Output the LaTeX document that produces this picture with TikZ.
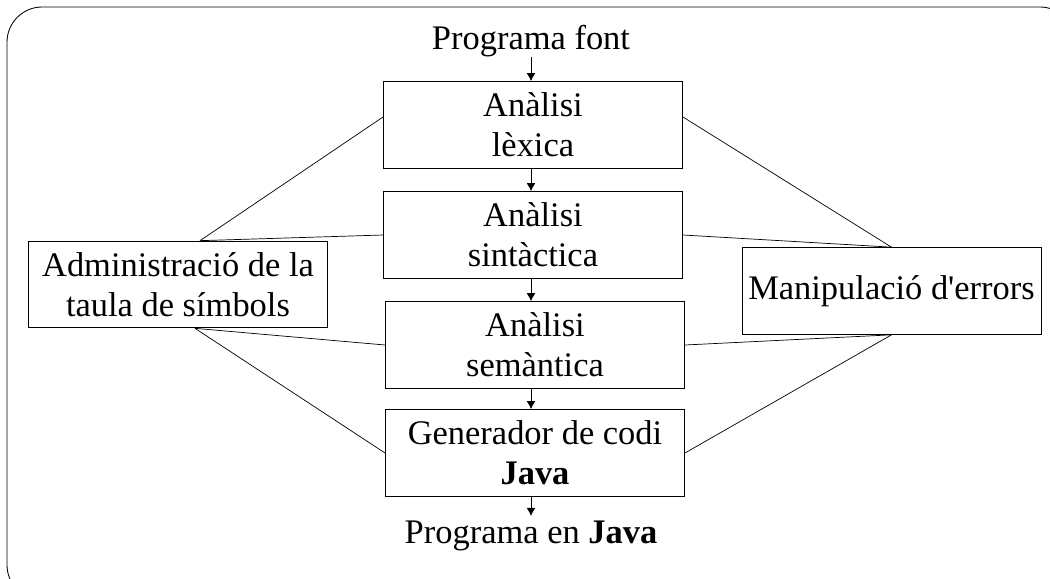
\documentclass[tikz,border=0pt]{standalone}
\usepackage{fontspec}
\setmainfont{Liberation Serif}
\usetikzlibrary{positioning,arrows.meta}

\begin{document}
\begin{tikzpicture}[x=0.025cm, y=-0.025cm]
  \tikzset{phase/.style={
      draw, line width=0.6pt, align=center, inner sep=0pt,
      minimum width=7.475cm, minimum height=2.17cm,
      font=\fontsize{24.5}{28.5}\selectfont
    },
    label text/.style={inner sep=0pt, font=\fontsize{24.5}{28.5}\selectfont},
    link/.style={line width=0.5pt},
    flow/.style={line width=0.6pt, -{Latex[length=0.2cm,width=0.22cm]}}
  }

  \clip (0,0) rectangle (1050,578);
  \draw[line width=0.6pt, rounded corners=25] (7,7) rectangle (1075,600);

  \node[label text] (src) at (531,41) {Programa font};
  \node[phase] (lex) at (533,125) {Anàlisi\\lèxica};
  \node[phase] (sin) at (533,235) {Anàlisi\\sintàctica};
  \node[phase] (sem) at (535,345) {Anàlisi\\semàntica};
  \node[phase] (gen) at (535,453) {Generador de codi\\\textbf{Java}};
  \node[label text] (dst) at (531,536) {Programa en \textbf{Java}};

  \node[phase] (adm) at (178,284.5) {Administració de la\\taula de símbols};
  \node[phase] (err) at (891.5,291) {Manipulació d\textquotesingle errors};

  \draw[flow] (src.south) -- (src.south |- lex.north);
  \draw[flow] (lex.south -| src) -- (sin.north -| src);
  \draw[flow] (sin.south -| src) -- (sem.north -| src);
  \draw[flow] (sem.south -| src) -- (gen.north -| src);
  \draw[flow] (gen.south -| src) -- ([yshift=0.12cm]dst.north);

  \draw[link] ([xshift=22*0.025cm]adm.north) -- ([yshift=0.2cm]lex.west);
  \draw[link] ([xshift=22*0.025cm]adm.north) -- (sin.west);
  \draw[link] ([xshift=17*0.025cm]adm.south) -- (sem.west);
  \draw[link] ([xshift=17*0.025cm]adm.south) -- (gen.west);

  \draw[link] (err.north) -- ([yshift=0.2cm]lex.east);
  \draw[link] (err.north) -- (sin.east);
  \draw[link] (err.south) -- (sem.east);
  \draw[link] (err.south) -- (gen.east);
\end{tikzpicture}
\end{document}
